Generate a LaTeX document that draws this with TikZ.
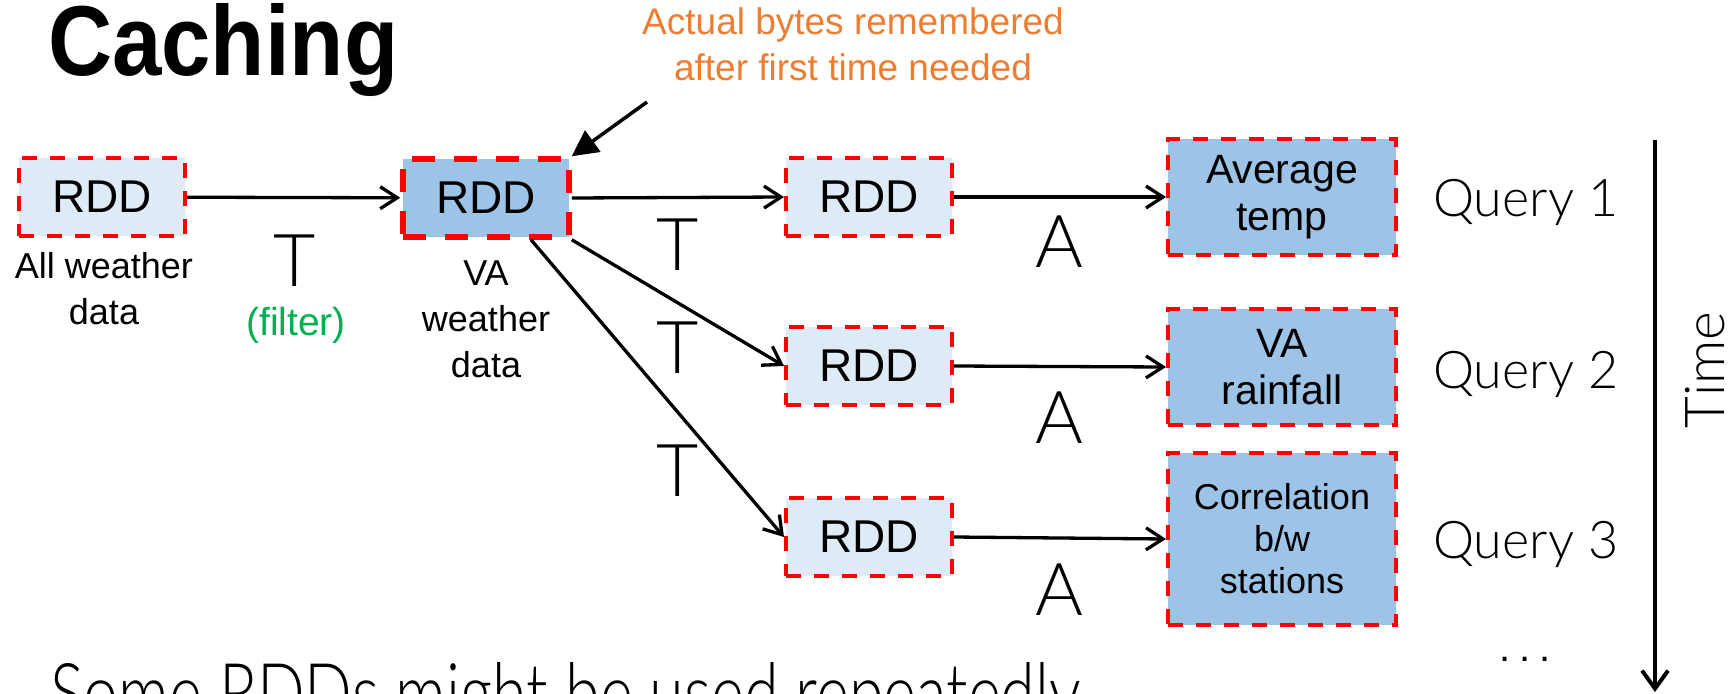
\documentclass[tikz,border=0pt]{standalone}
\usepackage{graphicx}
\usepackage{fontspec}
\setmainfont{Liberation Sans}
\newfontfamily\thinfont{Lato Light}
\usetikzlibrary{arrows.meta,calc}

\definecolor{rddlight}{HTML}{DEEBF7}
\definecolor{rdddark}{HTML}{9DC3E6}
\definecolor{noteorange}{HTML}{ED7D31}
\definecolor{filtergreen}{HTML}{00B050}
\definecolor{dashred}{HTML}{FF0000}

\begin{document}
\begin{tikzpicture}[x=1pt,y=-1pt,
  rddbox/.style={draw=dashred, line width=4pt, dash pattern=on 15pt off 13pt,
    fill=rddlight, minimum width=166pt, minimum height=78pt, inner sep=0pt,
    font=\fontsize{46}{52}\selectfont},
  cachedbox/.style={rddbox, fill=rdddark, line width=5.5pt, dash pattern=on 23pt off 19pt},
  resultbox/.style={draw=dashred, line width=4pt, dash pattern=on 15pt off 13pt,
    fill=rdddark, minimum width=228pt, inner sep=0pt, align=center,
    font=\fontsize{41}{47}\selectfont},
  caption/.style={align=center, anchor=base, inner sep=0pt, font=\fontsize{36}{46}\selectfont},
  oplabel/.style={anchor=base, inner sep=0pt, font=\thinfont\fontsize{73}{80}\selectfont},
  querylabel/.style={anchor=base west, inner sep=0pt, font=\thinfont\fontsize{52}{60}\selectfont},
  flow/.style={line width=3.3pt, -{Straight Barb[length=17pt,width=22pt]}},
  pointer/.style={line width=3.5pt, -{Triangle[length=26pt,width=26pt]}},
  timeline/.style={line width=4pt, -{Straight Barb[length=18pt,width=26pt]}}
]
\path[use as bounding box] (0,0) rectangle (1736,693);
\clip (0,0) rectangle (1736,693);

% title and closing remark (both run off the slide edge)
\node[anchor=base west, inner sep=0pt] (title) at (48,75)
  {\resizebox{350pt}{72pt}{\bfseries Caching}};
\node[anchor=base west, inner sep=0pt] (summary) at (50,722)
  {\thinfont\resizebox{1030pt}{60pt}{Some RDDs might be used repeatedly}};

% note on the cached RDD (base = baseline of the last line)
\node[align=center, anchor=base, inner sep=0pt, text=noteorange,
  font=\fontsize{37}{46}\selectfont] (note) at (853,81)
  {Actual bytes remembered\\after first time needed};

% RDD boxes
\node[rddbox] (rdd1) at (102,197) {RDD};
\node[cachedbox] (rdd2) at (486,198) {RDD};
\node[rddbox] (r1) at (869,197) {RDD};
\node[rddbox] (r2) at (869,366) {RDD};
\node[rddbox] (r3) at (869,537) {RDD};

% query results
\node[resultbox, minimum height=116pt] (res1) at (1282,197) {Average\\temp};
\node[resultbox, minimum height=116pt] (res2) at (1282,367) {VA\\rainfall};
\node[resultbox, minimum height=172pt, font=\fontsize{36}{42}\selectfont] (res3) at (1282,539)
  {Correlation\\b/w\\stations};

% captions under the first two RDDs (base = baseline of the last line)
\node[caption] (cap1) at (104,324) {All weather\\data};
\node[caption] (cap2) at (486,377) {VA\\weather\\data};

% transformations and actions
\node[oplabel] (t0) at (295,286) {T};
\node[anchor=base, inner sep=0pt, text=filtergreen, font=\fontsize{39}{44}\selectfont]
  (filter) at (296,335) {(filter)};
\node[oplabel] (t1) at (678,270) {T};
\node[oplabel] (t2) at (678,373) {T};
\node[oplabel] (t3) at (678,496) {T};
\node[oplabel] (a1) at (1059,267) {A};
\node[oplabel] (a2) at (1059,443) {A};
\node[oplabel] (a3) at (1059,615) {A};

% query names
\node[querylabel] (q1) at (1433,216) {Query 1};
\node[querylabel] (q2) at (1433,388) {Query 2};
\node[querylabel] (q3) at (1433,558) {Query 3};
\node[anchor=base, inner sep=0pt, font=\fontsize{40}{48}\selectfont] (more) at (1525,661)
  {.\hspace{9pt}.\hspace{9pt}.};

% time axis
\coordinate (ttop) at (1655,140);
\coordinate (tbot) at (1655,692);
\draw[timeline] (ttop) -- (tbot);
\node[rotate=90, inner sep=0pt, font=\thinfont\fontsize{55}{60}\selectfont] (time) at (1705,370) {Time};

% connectors
\draw[flow] (rdd1) -- (rdd2);
\draw[flow] (rdd2.east) -- (r1.west);
\draw[flow] (rdd2.south east) -- (r2.west);
\draw[flow] ($(rdd2.south)+(45,0)$) -- (r3.west);
\draw[flow] (r1.east) -- (res1.west);
\draw[flow] (r2.east) -- (res2.west);
\draw[flow] (r3.east) -- (res3.west);

\coordinate (notetail) at (647,102);
\draw[pointer] (notetail) -- (rdd2.north east);
\end{tikzpicture}
\end{document}
